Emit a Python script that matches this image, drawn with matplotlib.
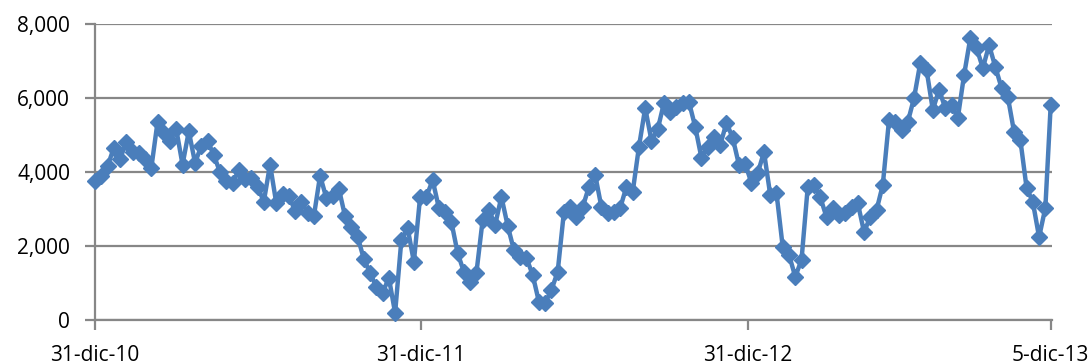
import numpy as np
import pandas as pd
import matplotlib
matplotlib.use("Agg")
import matplotlib.pyplot as plt
import matplotlib.dates as mdates
import matplotlib.ticker as mticker

# weekly observations, last one on 5-dic-13
dates = list(pd.date_range("2010-12-31", periods=153, freq="7D")) + [pd.Timestamp("2013-12-05")]

values = [
    3750, 3900, 4150, 4650, 4350, 4800, 4550, 4500, 4350, 4100,
    5350, 5050, 4850, 5150, 4200, 5100, 4250, 4700, 4850, 4450,
    4000, 3750, 3700, 4050, 3800, 3850, 3600, 3200, 4200, 3150,
    3400, 3350, 2950, 3200, 2900, 2800, 3900, 3300, 3350, 3550,
    2800, 2500, 2250, 1650, 1270, 890, 730, 1140, 190, 2160,
    2490, 1570, 3330, 3330, 3780, 3030, 2920, 2650, 1810, 1300,
    1030, 1270, 2700, 2970, 2570, 3330, 2550, 1890, 1700, 1680,
    1220, 490, 460, 810, 1300, 2920, 3050, 2780, 3050, 3600,
    3920, 3050, 2890, 2920, 3030, 3600, 3460, 4680, 5730, 4850,
    5150, 5870, 5620, 5750, 5870, 5890, 5220, 4380, 4680, 4950,
    4730, 5330, 4920, 4190, 4220, 3700, 3970, 4540, 3380, 3430,
    1970, 1760, 1170, 1620, 3600, 3650, 3320, 2780, 3030, 2840,
    2900, 3050, 3160, 2380, 2780, 2970, 3650, 5410, 5350, 5140,
    5350, 6000, 6950, 6760, 5680, 6220, 5730, 5810, 5460, 6620,
    7620, 7350, 6810, 7430, 6840, 6270, 6030, 5080, 4870, 3570,
    3190, 2240, 3030, 5810,
]

tick_dates = [pd.Timestamp("2010-12-31"), pd.Timestamp("2011-12-31"),
              pd.Timestamp("2012-12-31"), pd.Timestamp("2013-12-05")]
tick_labels = ["31-dic-10", "31-dic-11", "31-dic-12", "5-dic-13"]

plt.rcParams["font.family"] = ["Open Sans", "DejaVu Sans"]

fig = plt.figure(figsize=(10.92, 3.64), dpi=100)
ax = fig.add_axes([0.087, 0.121, 0.876, 0.813])

blue = "#4a7ebb"
ax.plot(dates, values, color=blue, linewidth=3.2, marker="D", markersize=8.6,
        markerfacecolor=blue, markeredgecolor=blue, zorder=3, clip_on=False)

ax.set_ylim(0, 8000)
ax.yaxis.set_major_locator(mticker.MultipleLocator(2000))
ax.yaxis.set_major_formatter(mticker.FuncFormatter(lambda v, p: f"{int(v):,}"))
ax.set_xlim(pd.Timestamp("2010-12-31"), pd.Timestamp("2013-12-06"))
ax.set_xticks(tick_dates)
ax.set_xticklabels(tick_labels)

ax.grid(axis="y", color="#878787", linewidth=1.6)
ax.set_axisbelow(True)
for side in ["top", "right"]:
    ax.spines[side].set_visible(False)
for side in ["left", "bottom"]:
    ax.spines[side].set_color("#878787")
    ax.spines[side].set_linewidth(1.6)

ax.tick_params(axis="both", colors="#878787", length=7, width=1.6,
               labelcolor="black", labelsize=15)
ax.tick_params(axis="y", pad=11)
ax.tick_params(axis="x", pad=11)

fig.savefig("out.png", dpi=100)
